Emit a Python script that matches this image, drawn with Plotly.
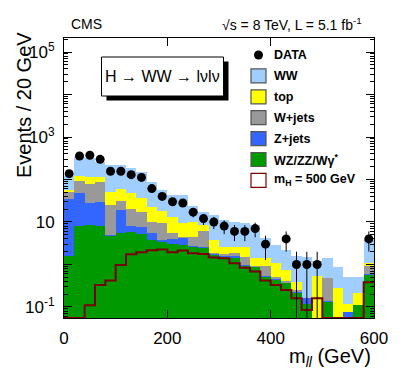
import numpy as np
import plotly.graph_objects as go

# ---------------- data ----------------
bin_edges = list(range(0, 620, 20))          # m_ll bins, 20 GeV wide, 0..600
data = [137, 357, 371, 298, 156, 156, 130, 112, 61, 40, 30, 28, 17, 12, 10,
        8, 6, 6, 7, 3, 0, 4, 1, 1, 1, 0, 0, 0, 0, 4]
ww = [67, 219, 203, 146, 167, 160, 134, 117, 66, 39, 30, 34, 13, 9, 10.8,
      8.5, 7.6, 6.7, 7.0, 2.8, 1.8, 1.45, 1.17, 1.37, 0.65, 0.93, 0.58, 0.40, 0.31, 2.7]
top = [5, 27, 34, 31, 27, 27, 29, 18.5, 13, 9, 7.5, 4.8, 5.7, 2.4, 1.95,
       0.86, 0.8, 1.0, 0.55, 0.5, 0.57, 0.33, 0.13, 0, 0.52, 0, 0.25, 0.045, 0.10, 0.17]
wjets = [18, 47, 49.5, 56, 20, 12.6, 12, 9.7, 4.4, 5.5, 1.5, 0.3, 1.9, 3.5, 0.06,
         0.2, 0.25, 0.56, 0.03, 0.35, 0.05, 0.05, 0.02, 0, 0, 0.34, 0, 0, 0, 0.33]
zjets = [32.4, 39, 20, 22, 0.25, 13.8, 2.5, 2.6, 1.6, 0.5, 0.9, 1.3, 0.1, 0.23, 0.1,
         0.05, 0.18, 0.05, 0.0, 0.05, 0.02, 0.0, 0.02, 0.04, 0.0, 0.01, 0, 0.075, 0, 0.03]
wzzz = [1.6, 8.0, 8.5, 8.0, 4.7, 5.4, 5.7, 5.2, 3.8, 3.3, 3.0, 2.9, 2.55, 2.4, 1.67,
        1.53, 1.40, 0.92, 0.87, 0.5, 0.43, 0.36, 0.21, 0.12, 0.03, 0.13, 0.03, 0.0, 0.11, 0.57]
signal = [0, 0, 0.11, 0.33, 0.42, 0.97, 1.74, 1.94, 2.15, 2.25, 1.95, 2.12, 1.83, 1.77, 1.45,
          1.40, 1.07, 0.84, 0.68, 0.42, 0.33, 0.25, 0.16, 0.085, 0.16, 0, 0, 0, 0, 0.38]

y_tick_vals = [0.1, 1, 10, 100, 1e3, 1e4, 1e5]
y_tick_text = ["10<sup>-1</sup>", "", "10", "", "10<sup>3</sup>", "", "10<sup>5</sup>"]
x_tick_vals = [0, 200, 400, 600]

bkg_names = ["WZ/ZZ/Wγ<sup>*</sup>", "Z+jets", "W+jets", "top", "WW"]
bkg_colors = ["#009a00", "#3366ff", "#999999", "#ffff00", "#a0cfff"]
sig_color = "#7a0000"

# ---------------- figure ----------------
FONT = "Liberation Sans, Arial, sans-serif"
W, H = 407, 383
L, R, T, B = 64, 33, 38, 65
YMIN_LOG, YMAX_LOG = -1.26, 5.33

edges = np.array(bin_edges, dtype=float)
centers = 0.5 * (edges[:-1] + edges[1:])
widths = np.diff(edges)

fig = go.Figure()
for vals, name, col in zip([wzzz, zjets, wjets, top, ww], bkg_names, bkg_colors):
    fig.add_trace(go.Bar(x=centers, y=vals, width=widths, name=name,
                         marker=dict(color=col, line=dict(width=0)),
                         showlegend=False))

# signal outline (step histogram)
ymin = 10 ** YMIN_LOG
sig = np.maximum(np.array(signal, dtype=float), ymin)
fig.add_trace(go.Scatter(x=list(edges), y=list(sig) + [sig[-1]], mode="lines",
                         line=dict(color=sig_color, width=2, shape="hv"),
                         showlegend=False))

# data points with sqrt(N) errors
d = np.array(data, dtype=float)
dy = [v if v > 0 else None for v in d]
fig.add_trace(go.Scatter(x=centers, y=dy, mode="markers",
                         marker=dict(color="black", size=9),
                         error_y=dict(type="data", array=np.sqrt(d), symmetric=True,
                                      color="black", thickness=1, width=0),
                         showlegend=False))

pw, ph = W - L - R, H - T - B
def px(xp):  # pixel -> paper
    return (xp - L) / pw
def py(yp):
    return (H - B - yp) / ph

shapes, annotations = [], []

# H -> WW box with shadow
shapes.append(dict(type="rect", xref="paper", yref="paper", x0=px(106.5), x1=px(228.5),
                   y0=py(100.5), y1=py(61.5), fillcolor="black", line=dict(width=0)))
shapes.append(dict(type="rect", xref="paper", yref="paper", x0=px(101.5), x1=px(223.5),
                   y0=py(96), y1=py(57), fillcolor="white", line=dict(color="black", width=1)))
annotations.append(dict(xref="paper", yref="paper", x=px(162.5), y=py(76.5),
                        text="H → WW → lνlν", showarrow=False,
                        font=dict(family=FONT, size=16, color="black"),
                        xanchor="center", yanchor="middle"))

# legend (manual)
leg_names = ["DATA", "WW", "top", "W+jets", "Z+jets", "WZ/ZZ/Wγ<sup>*</sup>", "m<sub>H</sub> = 500 GeV"]
leg_fill = [None, bkg_colors[4], bkg_colors[3], bkg_colors[2], bkg_colors[1], bkg_colors[0], "white"]
leg_line = [None, "#555555", "#555555", "#555555", "#555555", "#555555", sig_color]
y0, dy_leg = 55.0, 20.9
for i, (nm, fc, lc) in enumerate(zip(leg_names, leg_fill, leg_line)):
    yc = y0 + i * dy_leg
    if fc is None:
        shapes.append(dict(type="circle", xref="paper", yref="paper",
                           x0=px(258.5 - 4.5), x1=px(258.5 + 4.5),
                           y0=py(yc + 4.5), y1=py(yc - 4.5),
                           fillcolor="black", line=dict(width=0)))
    else:
        shapes.append(dict(type="rect", xref="paper", yref="paper",
                           x0=px(251), x1=px(266), y0=py(yc + 7), y1=py(yc - 7),
                           fillcolor=fc, line=dict(color=lc, width=1.2)))
    annotations.append(dict(xref="paper", yref="paper", x=px(272), y=py(yc),
                            text="<b>" + nm + "</b>", showarrow=False,
                            font=dict(family=FONT, size=12.5, color="black"),
                            xanchor="left", yanchor="middle"))

# header texts
annotations.append(dict(xref="paper", yref="paper", x=px(69), y=py(24), text="CMS",
                        showarrow=False, font=dict(family=FONT, size=14, color="black"),
                        xanchor="left", yanchor="middle"))
annotations.append(dict(xref="paper", yref="paper", x=px(364), y=py(24),
                        text="√s = 8 TeV, L = 5.1 fb<sup>-1</sup>",
                        showarrow=False, font=dict(family=FONT, size=14, color="black"),
                        xanchor="right", yanchor="middle"))
# axis titles
annotations.append(dict(xref="paper", yref="paper", x=px(24), y=py(105),
                        text="Events / 20 GeV", textangle=-90, showarrow=False,
                        font=dict(family=FONT, size=20, color="black"),
                        xanchor="center", yanchor="middle"))
annotations.append(dict(xref="paper", yref="paper", x=px(373), y=py(357),
                        text="m<sub><i>ll</i></sub> (GeV)", showarrow=False,
                        font=dict(family=FONT, size=20, color="black"),
                        xanchor="right", yanchor="middle"))

minor_vals = [k * 10.0 ** e for e in range(-2, 6) for k in range(2, 10)]

fig.update_layout(
    width=W, height=H, autosize=False,
    margin=dict(l=L, r=R, t=T, b=B, pad=0),
    paper_bgcolor="white", plot_bgcolor="white",
    barmode="stack", bargap=0,
    showlegend=False,
    font=dict(family=FONT, size=17, color="black"),
    shapes=shapes, annotations=annotations,
    xaxis=dict(range=[0, 600], tickvals=x_tick_vals, ticks="inside", ticklen=8,
               tickcolor="black", showline=True, linecolor="black", linewidth=1,
               mirror="ticks", showgrid=False, zeroline=False,
               tickfont=dict(family=FONT, size=17), ticklabelstandoff=5),
    yaxis=dict(type="log", range=[YMIN_LOG, YMAX_LOG], tickvals=y_tick_vals,
               ticktext=y_tick_text, ticks="inside", ticklen=8, tickcolor="black",
               showline=True, linecolor="black", linewidth=1, mirror="ticks",
               showgrid=False, zeroline=False,
               tickfont=dict(family=FONT, size=17), ticklabelstandoff=5,
               minor=dict(tickvals=minor_vals, ticks="inside", ticklen=4,
                          tickcolor="black", showgrid=False)),
)

fig.write_html("out.html", config={"displayModeBar": False, "staticPlot": True},
               post_script="document.body.style.margin='0px';document.body.style.padding='0px';")
